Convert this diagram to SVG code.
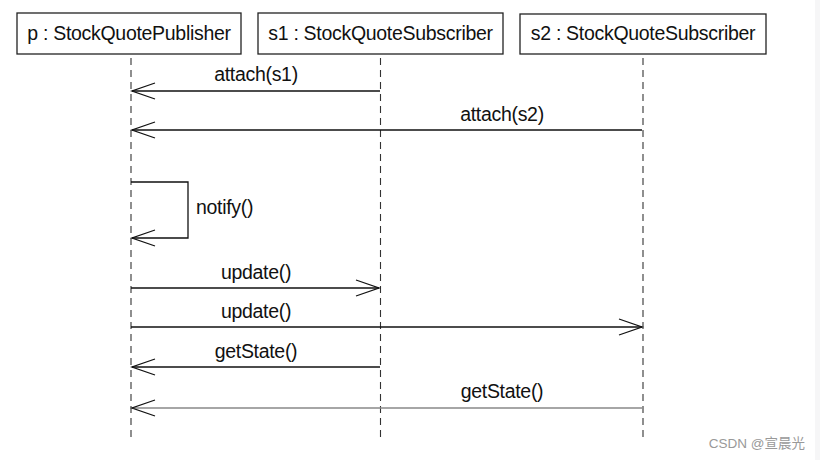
<svg xmlns="http://www.w3.org/2000/svg" width="820" height="460" viewBox="0 0 820 460">
<defs>
<style>
.box{fill:#fff;stroke:#222;stroke-width:1.3}
.t{font-family:"Liberation Sans",Arial,sans-serif;font-size:19.5px;fill:#111;letter-spacing:-0.3px}
.life{stroke:#333;stroke-width:1.1;stroke-dasharray:7 5;fill:none}
.msg{stroke:#111;stroke-width:1.3;fill:none}
.head{stroke:#111;stroke-width:1.3;fill:none}
</style>
</defs>
<rect x="0" y="0" width="820" height="460" fill="#fff"/>
<rect x="815" y="0" width="5" height="460" fill="#f6f6f7"/>
<g id="p">
<rect class="box" x="17" y="13" width="224" height="41"/>
<text class="t" x="129" y="40" text-anchor="middle">p : StockQuotePublisher</text>
<line class="life" x1="131" y1="58" x2="131" y2="441"/>
</g>
<g id="s1">
<rect class="box" x="258" y="13" width="245" height="41"/>
<text class="t" x="380.5" y="40" text-anchor="middle">s1 : StockQuoteSubscriber</text>
<line class="life" x1="380.5" y1="58" x2="380.5" y2="438"/>
</g>
<g id="s2">
<rect class="box" x="520" y="14" width="246" height="40"/>
<text class="t" x="643" y="40" text-anchor="middle">s2 : StockQuoteSubscriber</text>
<line class="life" x1="643" y1="58" x2="643" y2="438"/>
</g>
<g id="connectors">
<line class="msg" x1="380" y1="91" x2="132" y2="91"/>
<polyline class="head" points="155,83 132,91 155,99"/>
<text class="t" x="256" y="81" text-anchor="middle">attach(s1)</text>
<line class="msg" x1="642" y1="130" x2="132" y2="130"/>
<polyline class="head" points="155,122 132,130 155,138"/>
<text class="t" x="502" y="121" text-anchor="middle">attach(s2)</text>
<polyline class="msg" points="131,182 188,182 188,238 132,238"/>
<polyline class="head" points="155,230 132,238 155,246"/>
<text class="t" x="196" y="214">notify()</text>
<line class="msg" x1="131" y1="288" x2="379" y2="288"/>
<polyline class="head" points="356,280 379,288 356,296"/>
<text class="t" x="256" y="279" text-anchor="middle">update()</text>
<line class="msg" x1="131" y1="327" x2="642" y2="327"/>
<polyline class="head" points="619,319 642,327 619,335"/>
<text class="t" x="256" y="318" text-anchor="middle">update()</text>
<line class="msg" x1="380" y1="367" x2="132" y2="367"/>
<polyline class="head" points="155,359 132,367 155,375"/>
<text class="t" x="256" y="358" text-anchor="middle">getState()</text>
<line x1="642" y1="408" x2="132" y2="408" stroke="#888" stroke-width="1.3"/>
<polyline class="head" points="155,400 132,408 155,416"/>
<text class="t" x="502" y="398" text-anchor="middle">getState()</text>
</g>
<text x="805" y="448" text-anchor="end" font-family="'Liberation Sans','Noto Sans CJK SC',sans-serif" font-size="13.5" fill="#999">CSDN @宣晨光</text>
</svg>
